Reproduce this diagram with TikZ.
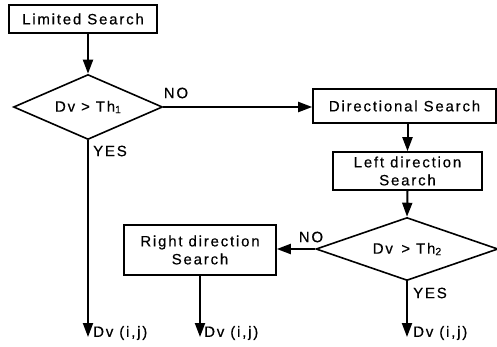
\documentclass[tikz,border=0pt]{standalone}
\usepackage{fontspec}
\setmainfont{Liberation Sans}[LetterSpace=12,FakeBold=0.4]
\usetikzlibrary{shapes.geometric,arrows.meta}
\newcommand{\subn}[1]{\raisebox{-1.5pt}{\fontsize{10.5}{10.5}\selectfont #1}}
\begin{document}
\begin{tikzpicture}[x=1pt,y=-1pt,
  every node/.style={font=\fontsize{15}{18}\selectfont},
  boxnode/.style={draw,line width=1.6pt,inner sep=0pt,align=center},
  decnode/.style={draw,diamond,line width=1.6pt,inner sep=0pt,aspect=2.3},
  flow/.style={line width=2pt,-{Triangle[length=14pt,width=10pt]}},
  lab/.style={inner sep=0pt}]
\useasboundingbox (0,0) rectangle (497,346);
\node[boxnode,minimum width=148pt,minimum height=28pt] (ls) at (83,19) {Limited Search};
\node[decnode,minimum width=149pt,minimum height=65pt] (d1) at (88,107) {Dv > Th\subn{1}};
\node[boxnode,minimum width=183pt,minimum height=34pt] (ds) at (404.5,106) {Directional Search};
\node[boxnode,minimum width=149pt,minimum height=38pt] (lds) at (407.5,171) {Left direction\\Search};
\node[decnode,minimum width=182pt,minimum height=63pt] (d2) at (407,249) {Dv\, > Th\subn{2}};
\node[boxnode,minimum width=152pt,minimum height=50pt] (rds) at (200,250) {Right direction\\Search};
\coordinate (e1) at (88,337);
\coordinate (e2) at (200,337);
\coordinate (e3) at (407,337);
\draw[flow] (d1.north |- ls.south) -- (d1.north);
\draw[flow] (d1.east) -- (ds.west |- d1.east);
\draw[flow] (ds.south -| lds.north) -- (lds.north);
\draw[flow] (lds.south) -- (d2.north);
\draw[flow] (d2.west) -- (rds.east |- d2.west);
\draw[flow] (d1.south) -- (e1);
\draw[flow] (rds.south) -- (e2);
\draw[flow] (d2.south) -- (e3);
\node[lab] (no1) at (176,93) {NO};
\node[lab] (yes1) at (110,151) {YES};
\node[lab] (no2) at (311,237) {NO};
\node[lab] (yes2) at (430,293) {YES};
\node[lab,anchor=west] (o1) at (93,333) {Dv (i,j)};
\node[lab,anchor=west] (o2) at (204,333) {Dv (i,j)};
\node[lab,anchor=west] (o3) at (413,333) {Dv (i,j)};
\end{tikzpicture}
\end{document}
